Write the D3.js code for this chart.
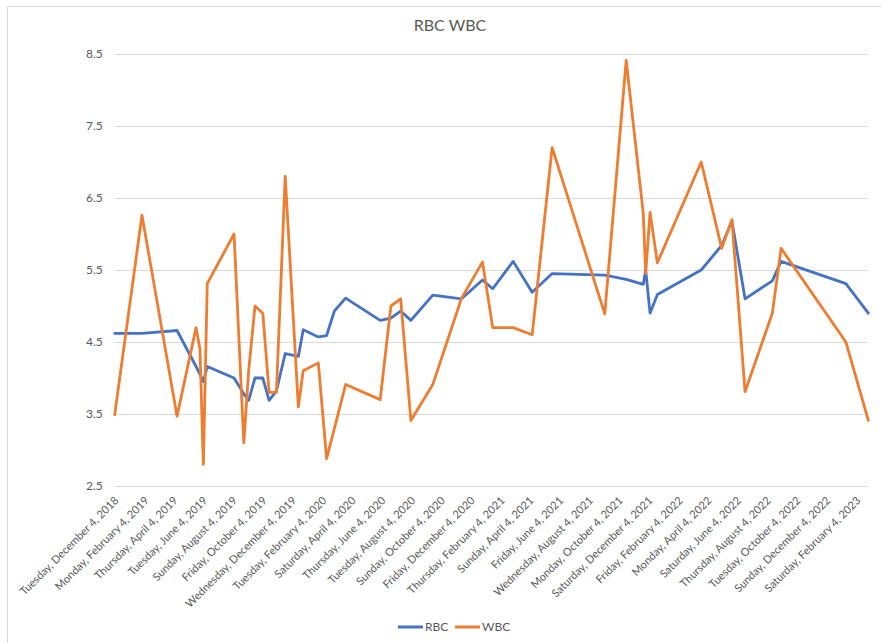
<!DOCTYPE html>
<html>
<head>
<meta charset="utf-8">
<script src="https://cdn.jsdelivr.net/npm/d3@7"></script>
<style>
  html, body { margin: 0; padding: 0; background: #fff; }
  svg { display: block; }
  text { font-family: Lato, "Open Sans", sans-serif; fill: #595959; }
</style>
</head>
<body>
<svg id="chart" width="881" height="643"></svg>
<script>
// Sample dates and blood counts
const dates = [
  "2018-12-04", "2019-01-29", "2019-04-11", "2019-05-20", "2019-05-28", "2019-06-04",
  "2019-06-12", "2019-08-06", "2019-08-26", "2019-09-05", "2019-09-18", "2019-10-04",
  "2019-10-17", "2019-11-01", "2019-11-19", "2019-12-16", "2019-12-26", "2020-01-26",
  "2020-02-12", "2020-02-28", "2020-03-22", "2020-06-01", "2020-06-23", "2020-07-13",
  "2020-08-03", "2020-09-17", "2020-11-15", "2020-12-28", "2021-01-18", "2021-03-01",
  "2021-04-09", "2021-05-20", "2021-09-05", "2021-10-19", "2021-11-23", "2021-11-28",
  "2021-12-07", "2021-12-22", "2022-03-22", "2022-05-03", "2022-05-24", "2022-06-20",
  "2022-08-15", "2022-09-02", "2023-01-13", "2023-02-28"
];
const rbc = [
  4.62, 4.62, 4.66, 4.16, 4.05, 3.95,
  4.16, 4.00, 3.78, 3.69, 4.00, 4.00,
  3.69, 3.82, 4.34, 4.30, 4.67, 4.57,
  4.59, 4.93, 5.11, 4.80, 4.83, 4.93,
  4.80, 5.15, 5.10, 5.36, 5.24, 5.62,
  5.19, 5.45, 5.43, 5.37, 5.30, 5.50,
  4.90, 5.16, 5.50, 5.84, 6.18, 5.10,
  5.35, 5.62, 5.31, 4.90
];
const wbc = [
  3.49, 6.26, 3.47, 4.70, 4.40, 2.80,
  5.31, 6.00, 3.10, 4.10, 5.00, 4.90,
  3.80, 3.80, 6.80, 3.60, 4.10, 4.21,
  2.88, 3.30, 3.91, 3.70, 5.00, 5.10,
  3.41, 3.91, 5.11, 5.61, 4.70, 4.70,
  4.60, 7.20, 4.89, 8.41, 6.29, 5.45,
  6.30, 5.60, 7.00, 5.80, 6.20, 3.81,
  4.90, 5.80, 4.50, 3.41
];
const yTicks = [2.5, 3.5, 4.5, 5.5, 6.5, 7.5, 8.5];
const monthStep = 2; // months between date labels
const seriesNames = ["RBC", "WBC"];
const seriesColors = ["#4472C4", "#ED7D31"];
const chartTitle = "RBC WBC";

const parse = d3.timeParse("%Y-%m-%d");
const when = dates.map(parse);
const series = [rbc, wbc].map((vals, i) => ({
  name: seriesNames[i],
  color: seriesColors[i],
  points: vals.map((v, j) => ({ date: when[j], value: v }))
}));

const svg = d3.select("#chart");
const plot = { left: 114.7, right: 868.3, top: 54, bottom: 486 };

// chart frame
svg.append("rect")
  .attr("x", 7.5).attr("y", 6.5)
  .attr("width", 900).attr("height", 700)
  .attr("fill", "none").attr("stroke", "#d9d9d9").attr("stroke-width", 1);

const x = d3.scaleTime()
  .domain([when[0], when[when.length - 1]])
  .range([plot.left, plot.right]);
const y = d3.scaleLinear()
  .domain([2.5, 8.5])
  .range([plot.bottom, plot.top]);

// horizontal gridlines + value labels
const yAxis = d3.axisLeft(y)
  .tickValues(yTicks)
  .tickSize(-(plot.right - plot.left))
  .tickPadding(12)
  .tickFormat(d3.format(".1f"));
const gy = svg.append("g")
  .attr("transform", `translate(${plot.left},0)`)
  .call(yAxis);
gy.select(".domain").remove();
gy.selectAll(".tick line").attr("stroke", "#d9d9d9").attr("stroke-width", 1);
gy.selectAll(".tick text").attr("font-size", 12).attr("fill", "#595959");

// date axis: a label every two months, counted from the first sample date
const tickDates = [];
for (let d = when[0]; d <= when[when.length - 1]; d = d3.timeMonth.offset(d, monthStep)) {
  tickDates.push(d);
}
const fmt = d3.timeFormat("%A, %B %-d, %Y");
const xAxis = d3.axisBottom(x)
  .tickValues(tickDates)
  .tickSize(0)
  .tickFormat(fmt);
const gx = svg.append("g")
  .attr("transform", `translate(0,${plot.bottom})`)
  .call(xAxis);
gx.select(".domain").remove();
gx.selectAll(".tick text")
  .attr("font-size", 11)
  .attr("fill", "#595959")
  .attr("text-anchor", "end")
  .attr("dx", 0).attr("dy", 0)
  .attr("transform", "translate(2,13) rotate(-45)");

// series lines
const line = d3.line()
  .x(d => x(d.date))
  .y(d => y(d.value));
svg.append("g")
  .selectAll("path")
  .data(series)
  .join("path")
  .attr("d", d => line(d.points))
  .attr("fill", "none")
  .attr("stroke", d => d.color)
  .attr("stroke-width", 2.8)
  .attr("stroke-linejoin", "round")
  .attr("stroke-linecap", "round");

// title
svg.append("text")
  .attr("x", 450).attr("y", 31)
  .attr("text-anchor", "middle")
  .attr("font-size", 16)
  .attr("fill", "#595959")
  .text(chartTitle);

// legend
const legend = svg.append("g").attr("transform", "translate(398,627)");
const items = legend.selectAll("g")
  .data(series)
  .join("g")
  .attr("transform", (d, i) => `translate(${i * 57},0)`);
items.append("line")
  .attr("x1", 0).attr("x2", 25)
  .attr("y1", 0).attr("y2", 0)
  .attr("stroke", d => d.color)
  .attr("stroke-width", 3);
items.append("text")
  .attr("x", 27).attr("y", 4)
  .attr("font-size", 12)
  .attr("fill", "#595959")
  .text(d => d.name);
</script>
</body>
</html>
